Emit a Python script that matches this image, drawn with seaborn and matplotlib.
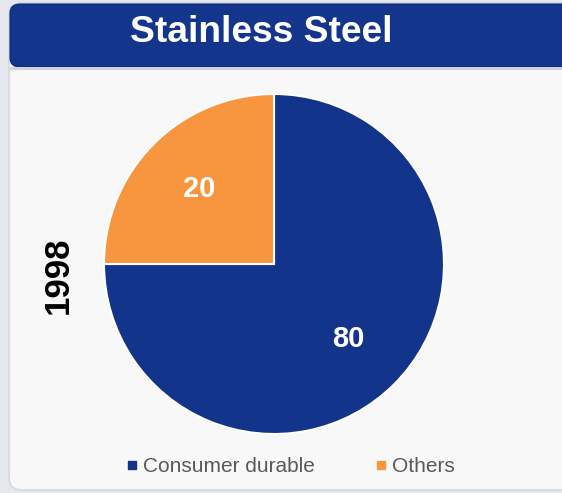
import matplotlib
matplotlib.use("Agg")
import matplotlib.pyplot as plt
import seaborn as sns
from matplotlib.patches import FancyBboxPatch, Rectangle
from matplotlib.lines import Line2D

categories = ["Consumer durable", "Others"]
label_values = ["80", "20"]
# slice sizes as drawn in the picture (the "Others" slice spans one quadrant)
slice_sizes = [75, 25]
title = "Stainless Steel"
year_label = "1998"

colors = ["#13348B", "#F7963F"]
banner_color = "#13358C"

sns.set_theme(style="white")
plt.rcParams["font.family"] = ["Liberation Sans", "DejaVu Sans"]

W, H = 562, 493
fig = plt.figure(figsize=(W / 100, H / 100), dpi=100)
fig.patch.set_facecolor("#E4E7EE")

def fx(x):
    return x / W

def fy(y):
    return 1 - y / H

# panel
panel = FancyBboxPatch((fx(9), fy(490)), fx(600) - fx(9), fy(3) - fy(490),
                       boxstyle="round,pad=0,rounding_size=0.025",
                       transform=fig.transFigure, facecolor="#F8F8F9",
                       edgecolor="#D6D9DF", linewidth=1.2, zorder=0)
fig.add_artist(panel)

# banner
banner = FancyBboxPatch((fx(10), fy(67)), fx(600) - fx(10), fy(4) - fy(67),
                        boxstyle="round,pad=0,rounding_size=0.018",
                        transform=fig.transFigure, facecolor=banner_color,
                        edgecolor="#0E2A75", linewidth=0.8, zorder=1)
fig.add_artist(banner)
fig.add_artist(Rectangle((fx(10), fy(70)), fx(600) - fx(10), fy(67) - fy(70),
                         transform=fig.transFigure, facecolor="#D0D3DA",
                         edgecolor="none", zorder=1))
fig.text(fx(261), fy(33), title, ha="center", va="center", color="white",
         fontsize=26.7, fontweight="bold", zorder=2)

# pie
cx, cy, r = 274, 264, 170
ax = fig.add_axes([fx(cx - r), fy(cy + r), (2 * r) / W, (2 * r) / H])
ax.set_facecolor("none")
wedges, texts = ax.pie(
    slice_sizes, colors=colors, startangle=90, counterclock=False,
    labels=label_values, labeldistance=0.62,
    wedgeprops=dict(edgecolor="white", linewidth=1.5),
    textprops=dict(color="white", fontsize=21, fontweight="bold"))
for t in texts:
    t.set_ha("center")
    t.set_va("center")
ax.set_xlim(-1, 1)
ax.set_ylim(-1, 1)
ax.set_aspect("equal")
ax.axis("off")

fig.text(fx(58), fy(275), year_label, rotation=90, ha="center", va="center",
         fontsize=25, fontweight="bold", color="black")

handles = [Line2D([0], [0], marker="s", linestyle="none", markersize=6,
                  markerfacecolor=c, markeredgecolor=c) for c in colors]
fig.legend(handles, categories, loc="center", bbox_to_anchor=(fx(291), fy(467)),
           ncol=2, frameon=False, fontsize=15, handlelength=0.5,
           handletextpad=0.3, columnspacing=2.9, labelcolor="#595959")

fig.savefig("out.png", dpi=100, facecolor=fig.get_facecolor())
